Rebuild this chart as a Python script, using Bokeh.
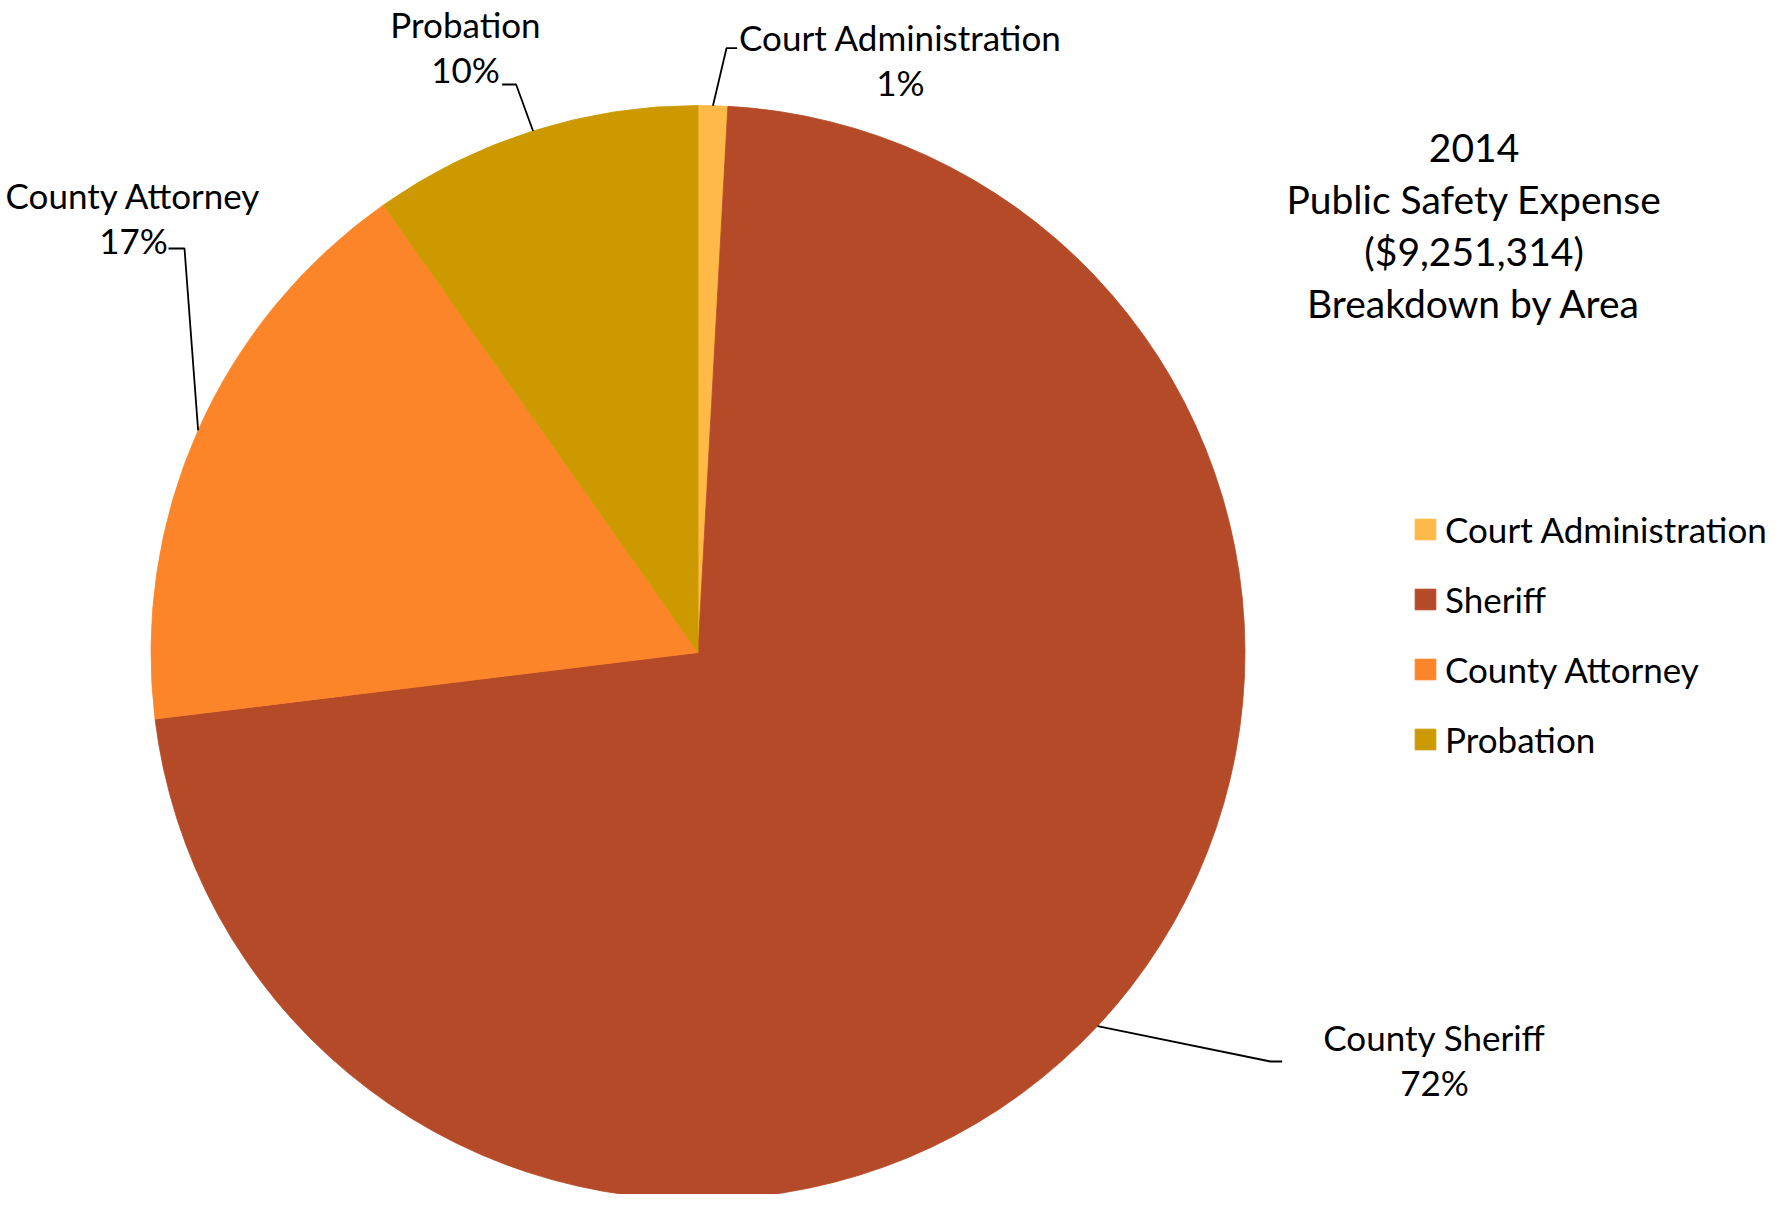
import math
from bokeh.plotting import figure
from bokeh.models import Range1d, Legend, LegendItem, ColumnDataSource
from bokeh.core.properties import value
from bokeh.embed import file_html
from bokeh.resources import INLINE

# ---------------- data ----------------
categories = ["Court Administration", "Sheriff", "County Attorney", "Probation"]
label_names = ["Court Administration", "County Sheriff", "County Attorney", "Probation"]
shares = [0.87, 72.19, 17.19, 9.75]          # percent of total expense
colors = ["#FFB948", "#B54A28", "#FD8529", "#CC9A00"]
title_lines = ["2014", "Public Safety Expense", "($9,251,314)", "Breakdown by Area"]

# ---------------- layout (screen px, origin top-left, y down) ----------------
FW, FH = 1771, 1194
CX, CY, R = 697.5, 652, 547
FONT = "Lato"
LABEL_SIZE = "35px"
TITLE_SIZE = "39px"
LINE_GAP = 45
label_pos = [(900, 59), (1434, 1059), (133, 217), (465, 45.5)]
elbows = [[(726, 47.7), (736.6, 47.7)],
          [(1270, 1061), (1281.7, 1061)],
          [(184, 248), (168, 248)],
          [(515.6, 84), (501.6, 84)]]
TITLE_X, TITLE_Y0, TITLE_GAP = 1473.6, 147, 51.7


def Y(y):
    return FH - y


p = figure(width=FW, height=FH,
           x_range=Range1d(0, FW), y_range=Range1d(0, FH),
           output_backend="svg", toolbar_location=None, min_border=0)
p.axis.visible = False
p.grid.visible = False
p.outline_line_color = None
p.background_fill_color = "white"
p.border_fill_color = "white"

total = sum(shares)
cum = 0.0
starts, ends, mids = [], [], []
for s in shares:
    f0 = cum / total
    cum += s
    f1 = cum / total
    starts.append(math.pi / 2 - 2 * math.pi * f0)
    ends.append(math.pi / 2 - 2 * math.pi * f1)
    mids.append((f0 + f1) / 2)

src = ColumnDataSource(dict(cat=categories, start=starts, end=ends, color=colors))
wr = p.wedge(x=CX, y=Y(CY), radius=R, start_angle="start", end_angle="end",
             direction="clock", fill_color="color", line_color="color",
             line_width=0.8, source=src)

# data labels and leader lines
lx, ly, lt = [], [], []
xs, ys = [], []
for i, name in enumerate(label_names):
    th = 2 * math.pi * mids[i]
    ax = CX + R * math.sin(th)
    ay = CY - R * math.cos(th)
    cx, cy = label_pos[i]
    pct = f"{round(shares[i] / total * 100)}%"
    lx += [cx, cx]
    ly += [Y(cy - LINE_GAP / 2), Y(cy + LINE_GAP / 2)]
    lt += [name, pct]
    xs.append([ax] + [e[0] for e in elbows[i]])
    ys.append([Y(ay)] + [Y(e[1]) for e in elbows[i]])

p.multi_line(xs=xs, ys=ys, line_color="black", line_width=1.8)
p.text(x=lx, y=ly, text=lt, text_font=value(FONT), text_font_size=LABEL_SIZE,
       text_align="center", text_baseline="middle", text_color="black")

# title
p.text(x=[TITLE_X] * len(title_lines),
       y=[Y(TITLE_Y0 + i * TITLE_GAP) for i in range(len(title_lines))],
       text=title_lines, text_font=value(FONT), text_font_size=TITLE_SIZE,
       text_align="center", text_baseline="middle", text_color="black")

# legend
items = [LegendItem(label=c, renderers=[wr], index=i) for i, c in enumerate(categories)]
legend = Legend(items=items, location=(1412, 430), orientation="vertical",
                glyph_width=26, glyph_height=26, label_height=50,
                label_text_font=FONT, label_text_font_size=LABEL_SIZE,
                label_text_color="black",
                label_standoff=7, spacing=20, padding=0, margin=0,
                border_line_color=None, background_fill_alpha=0)
p.add_layout(legend)

open("out.html", "w").write(file_html(p, INLINE))
